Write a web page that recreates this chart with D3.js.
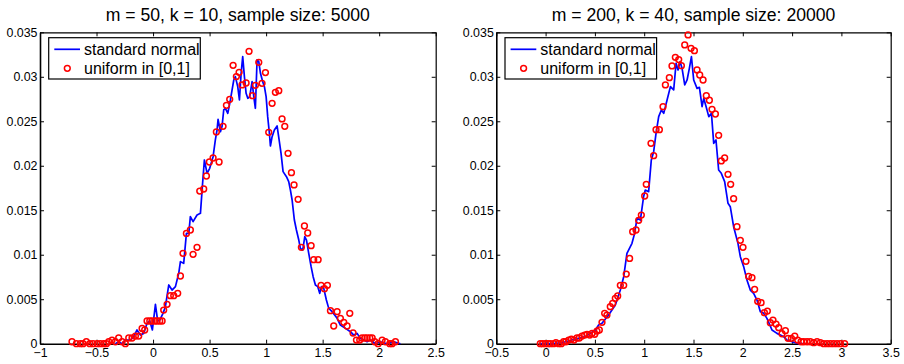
<!DOCTYPE html>
<html>
<head>
<meta charset="utf-8">
<script src="https://cdn.jsdelivr.net/npm/d3@7"></script>
<style>
  body { margin: 0; background: #fff; }
  text { font-family: "Liberation Sans", Arial, Helvetica, sans-serif; }
</style>
</head>
<body>
<svg id="chart" width="904" height="364"></svg>
<script>
// tick labels
const yTicks = [0, 0.005, 0.01, 0.015, 0.02, 0.025, 0.03, 0.035];
const xTicksLeft = [-1, -0.5, 0, 0.5, 1, 1.5, 2, 2.5];
const xTicksRight = [-0.5, 0, 0.5, 1, 1.5, 2, 2.5, 3, 3.5];

const titles = ["m = 50, k = 10, sample size: 5000", "m = 200, k = 40, sample size: 20000"];
const seriesNames = ["standard normal", "uniform in [0,1]"];

// left panel, standard normal (y in units of 1e-3)
const leftNormalX = [-0.333,-0.304,-0.274,-0.245,-0.201,-0.171,-0.142,-0.112,-0.083,-0.053,
  -0.029,-0.006,0.021,0.041,0.059,0.088,0.109,0.139,0.168,0.198,
  0.227,0.242,0.271,0.295,0.316,0.330,0.354,0.389,0.419,0.436,
  0.454,0.478,0.501,0.531,0.551,0.566,0.575,0.596,0.610,0.625,
  0.640,0.661,0.684,0.699,0.714,0.728,0.749,0.764,0.779,0.793,
  0.808,0.823,0.838,0.855,0.876,0.891,0.905,0.920,0.935,0.950,
  0.970,0.985,1.000,1.014,1.029,1.038,1.053,1.073,1.097,1.115,
  1.132,1.150,1.180,1.200,1.215,1.230,1.250,1.268,1.289,1.303,
  1.324,1.342,1.357,1.377,1.398,1.416,1.436,1.457,1.474,1.489,
  1.510,1.533,1.554,1.584,1.628,1.657,1.702,1.746,1.775,1.805,
  1.834,1.864,1.893,1.923,1.967,2.011,2.070,2.129,2.188];
const leftNormalY = [0,0.22,0,0.41,0.41,0.79,1.54,0.97,1.16,2.29,
  2.55,1.54,4.42,2.55,2.66,3.41,4.16,6.60,6.03,6.41,
  7.91,9.22,9.03,12.40,12.40,14.28,13.72,14.46,14.65,17.65,
  20.65,19.15,19.71,21.02,22.90,24.02,25.22,23.83,24.40,26.27,
  26.46,25.89,27.39,28.52,29.64,30.02,28.89,27.39,30.39,32.26,
  30.02,28.14,27.58,27.77,29.45,27.77,26.46,31.89,31.70,30.39,
  29.45,28.89,27.77,25.52,23.65,22.22,23.27,24.02,24.47,22.90,
  21.40,19.34,18.77,18.21,17.27,16.15,13.90,12.78,11.65,10.72,
  10.53,12.03,11.65,10.16,8.66,7.53,6.60,6.41,5.66,6.41,
  6.22,4.91,3.97,3.60,2.85,2.10,1.72,1.35,0.97,1.16,
  0.60,0.41,0.22,0.41,0,0.22,0,0.22,0];

// left panel, uniform in [0,1]
const leftUnifX = [-0.717,-0.678,-0.643,-0.619,-0.590,-0.560,-0.531,-0.495,-0.466,-0.436,
  -0.413,-0.392,-0.363,-0.333,-0.304,-0.274,-0.245,-0.215,-0.186,-0.156,
  -0.127,-0.097,-0.074,-0.053,-0.029,-0.009,0.015,0.035,0.059,0.080,
  0.094,0.124,0.153,0.183,0.218,0.242,0.265,0.295,0.330,0.354,
  0.389,0.413,0.448,0.472,0.498,0.531,0.560,0.584,0.619,0.649,
  0.678,0.708,0.737,0.761,0.787,0.823,0.849,0.879,0.905,0.935,
  0.964,0.994,1.023,1.053,1.082,1.112,1.141,1.165,1.194,1.224,
  1.247,1.283,1.312,1.339,1.368,1.398,1.421,1.460,1.486,1.516,
  1.542,1.569,1.598,1.628,1.657,1.687,1.716,1.740,1.769,1.799,
  1.828,1.849,1.873,1.893,1.917,1.938,1.961,1.991,2.026,2.055,
  2.094,2.114,2.144];
const leftUnifY = [0.22,0,0,0,0.22,0,0,0,0,0,
  0,0.22,0.41,0.22,0.64,0.22,0,0.64,0.64,0.86,
  0.86,1.72,1.54,2.55,2.55,2.55,2.55,2.55,2.55,2.55,
  3.78,4.42,5.40,5.40,5.66,7.61,10.16,12.40,12.78,10.04,
  10.83,17.16,17.39,18.85,20.42,20.87,23.80,20.42,24.43,26.79,
  27.47,31.29,30.02,30.50,29.08,29.30,32.86,27.88,29.04,31.63,
  29.27,30.47,23.76,27.02,28.25,28.44,25.26,24.43,21.40,19.22,
  17.84,16.23,10.83,13.23,12.44,11.02,9.44,9.44,6.56,6.18,
  6.56,3.71,1.99,3.60,2.85,2.40,1.99,3.41,1.20,0.41,
  0.41,0.64,0.64,0.64,0.64,0.64,0.22,0,0.41,0.22,
  0,0,0.22];

// right panel, standard normal
const rightNormalX = [-0.054,0.065,0.166,0.267,0.402,0.504,0.538,0.572,0.639,0.707,
  0.758,0.792,0.825,0.876,0.903,0.927,0.961,0.994,1.011,1.045,
  1.072,1.096,1.120,1.147,1.174,1.198,1.232,1.266,1.299,1.323,
  1.343,1.364,1.384,1.411,1.435,1.458,1.479,1.502,1.536,1.560,
  1.587,1.604,1.628,1.655,1.682,1.705,1.728,1.755,1.782,1.816,
  1.850,1.873,1.907,1.951,1.975,2.009,2.042,2.076,2.110,2.144,
  2.178,2.212,2.245,2.296,2.347,2.415,2.448,2.499,2.567,2.634];
const rightNormalY = [0,0,0.11,0.41,0.79,1.54,2.10,2.29,3.22,4.35,
  6.03,7.53,10.16,11.28,12.40,14.09,13.90,16.53,17.27,17.09,
  20.65,21.58,23.65,25.52,26.27,25.89,27.39,28.89,28.52,31.51,
  30.77,31.70,30.95,29.08,29.64,30.95,32.26,29.64,28.70,28.82,
  26.64,27.58,26.64,25.52,25.89,22.52,22.90,19.52,19.15,18.21,
  15.78,15.40,13.15,11.28,9.78,8.66,7.16,6.03,5.66,4.91,
  3.60,3.41,2.85,1.54,1.16,0.79,0.41,0.22,0,0];

// right panel, uniform in [0,1]
const rightUnifX = [-0.054,-0.030,-0.003,0.024,0.048,0.081,0.105,0.132,0.159,0.183,
  0.207,0.234,0.261,0.288,0.318,0.342,0.369,0.396,0.420,0.447,
  0.471,0.498,0.521,0.545,0.572,0.599,0.622,0.656,0.680,0.707,
  0.731,0.758,0.792,0.818,0.852,0.883,0.917,0.944,0.971,1.005,
  1.021,1.069,1.096,1.120,1.154,1.191,1.215,1.255,1.282,1.316,
  1.350,1.377,1.411,1.445,1.475,1.509,1.536,1.563,1.597,1.630,
  1.661,1.688,1.722,1.755,1.782,1.816,1.850,1.877,1.907,1.941,
  1.975,2.002,2.032,2.059,2.093,2.120,2.151,2.185,2.219,2.249,
  2.279,2.306,2.337,2.364,2.398,2.432,2.459,2.493,2.527,2.557,
  2.591,2.618,2.652,2.685,2.719,2.753,2.787,2.821,2.855,2.889,
  2.922,2.956,2.990,3.033];
const rightUnifY = [0,0,0,0,0,0,0.11,0,0,0.22,
  0.22,0.41,0.52,0.41,0.64,0.64,0.86,0.97,1.05,0.97,
  1.16,1.05,1.42,1.54,2.40,3.41,3.22,4.16,4.53,5.10,
  5.36,6.56,6.56,7.83,9.59,12.59,12.78,13.87,14.46,16.60,
  17.91,22.52,21.13,24.06,24.06,26.64,29.08,29.90,31.22,32.19,
  31.93,31.25,33.58,34.70,33.20,32.94,30.77,30.20,29.64,27.88,
  27.36,26.34,25.82,23.42,20.54,20.87,19.04,17.91,16.30,13.15,
  11.62,10.83,9.26,7.57,7.42,6.11,4.76,4.61,3.49,3.67,
  2.36,2.66,2.21,1.80,1.12,1.46,0.60,0.60,0.86,0.41,
  0.22,0.22,0.22,0.22,0.11,0.22,0.11,0,0,0,
  0,0,0,0];

const panels = [
  { title: titles[0], xTicks: xTicksLeft, left: 40, right: 435.7,
    normX: leftNormalX, normY: leftNormalY, unifX: leftUnifX, unifY: leftUnifY },
  { title: titles[1], xTicks: xTicksRight, left: 496.3, right: 890.7,
    normX: rightNormalX, normY: rightNormalY, unifX: rightUnifX, unifY: rightUnifY }
];

const plotTop = 32.3, plotBottom = 343.7;
const svg = d3.select("#chart");
const fmt = d3.format("~g");
const y = d3.scaleLinear().domain([0, 0.035]).range([plotBottom, plotTop]);

function styleAxis(sel, width) {
  sel.attr("font-size", 12.4).attr("font-family", '"Liberation Sans", Arial, sans-serif');
  sel.select(".domain").attr("stroke", "#000").attr("stroke-width", width);
  sel.selectAll(".tick line").attr("stroke", "#000").attr("stroke-width", 1);
  sel.selectAll(".tick text").attr("fill", "#000");
}

panels.forEach(p => {
  const x = d3.scaleLinear().domain(d3.extent(p.xTicks)).range([p.left, p.right]);
  const g = svg.append("g");

  // axes box with inward ticks
  g.append("g").attr("transform", `translate(0,${plotTop})`)
    .call(d3.axisTop(x).tickValues(p.xTicks).tickSize(-4).tickSizeOuter(0).tickFormat(""))
    .call(styleAxis, 1.2);
  g.append("g").attr("transform", `translate(${p.right},0)`)
    .call(d3.axisRight(y).tickValues(yTicks).tickSize(-4).tickSizeOuter(0).tickFormat(""))
    .call(styleAxis, 1.2);
  g.append("g").attr("transform", `translate(0,${plotBottom})`)
    .call(d3.axisBottom(x).tickValues(p.xTicks).tickSize(-4).tickSizeOuter(0).tickPadding(4.5).tickFormat(fmt))
    .call(styleAxis, 1.6);
  g.append("g").attr("transform", `translate(${p.left},0)`)
    .call(d3.axisLeft(y).tickValues(yTicks).tickSize(-4).tickSizeOuter(0).tickPadding(2.5).tickFormat(fmt))
    .call(styleAxis, 1.6);

  // title
  g.append("text")
    .attr("x", (p.left + p.right) / 2).attr("y", 21)
    .attr("text-anchor", "middle").attr("font-size", 17.6)
    .text(p.title);

  // standard normal line
  const line = d3.line()
    .x((d, i) => x(p.normX[i]))
    .y(d => y(d / 1000));
  g.append("path")
    .datum(p.normY)
    .attr("d", line)
    .attr("fill", "none")
    .attr("stroke", "#0000ff")
    .attr("stroke-width", 1.7)
    .attr("stroke-linejoin", "round");

  // uniform circles
  g.append("g").selectAll("circle")
    .data(p.unifY)
    .join("circle")
    .attr("cx", (d, i) => x(p.unifX[i]))
    .attr("cy", d => y(d / 1000))
    .attr("r", 2.9)
    .attr("fill", "none")
    .attr("stroke", "#ff0000")
    .attr("stroke-width", 1.5);

  // legend
  const lx = p.left + 8.7, ly = 37.7;
  const lg = g.append("g").attr("transform", `translate(${lx},${ly})`);
  lg.append("rect")
    .attr("width", 151.6).attr("height", 41.3)
    .attr("fill", "#fff").attr("stroke", "#000").attr("stroke-width", 1.2);
  lg.append("line")
    .attr("x1", 5.6).attr("x2", 31.3).attr("y1", 11.6).attr("y2", 11.6)
    .attr("stroke", "#0000ff").attr("stroke-width", 1.7);
  lg.append("circle")
    .attr("cx", 18.6).attr("cy", 30.6).attr("r", 2.9)
    .attr("fill", "none").attr("stroke", "#ff0000").attr("stroke-width", 1.5);
  lg.selectAll("text.lab")
    .data(seriesNames)
    .join("text")
    .attr("class", "lab")
    .attr("x", 35.3)
    .attr("y", (d, i) => 17.2 + i * 19)
    .attr("font-size", 16)
    .text(d => d);
});
</script>
</body>
</html>
